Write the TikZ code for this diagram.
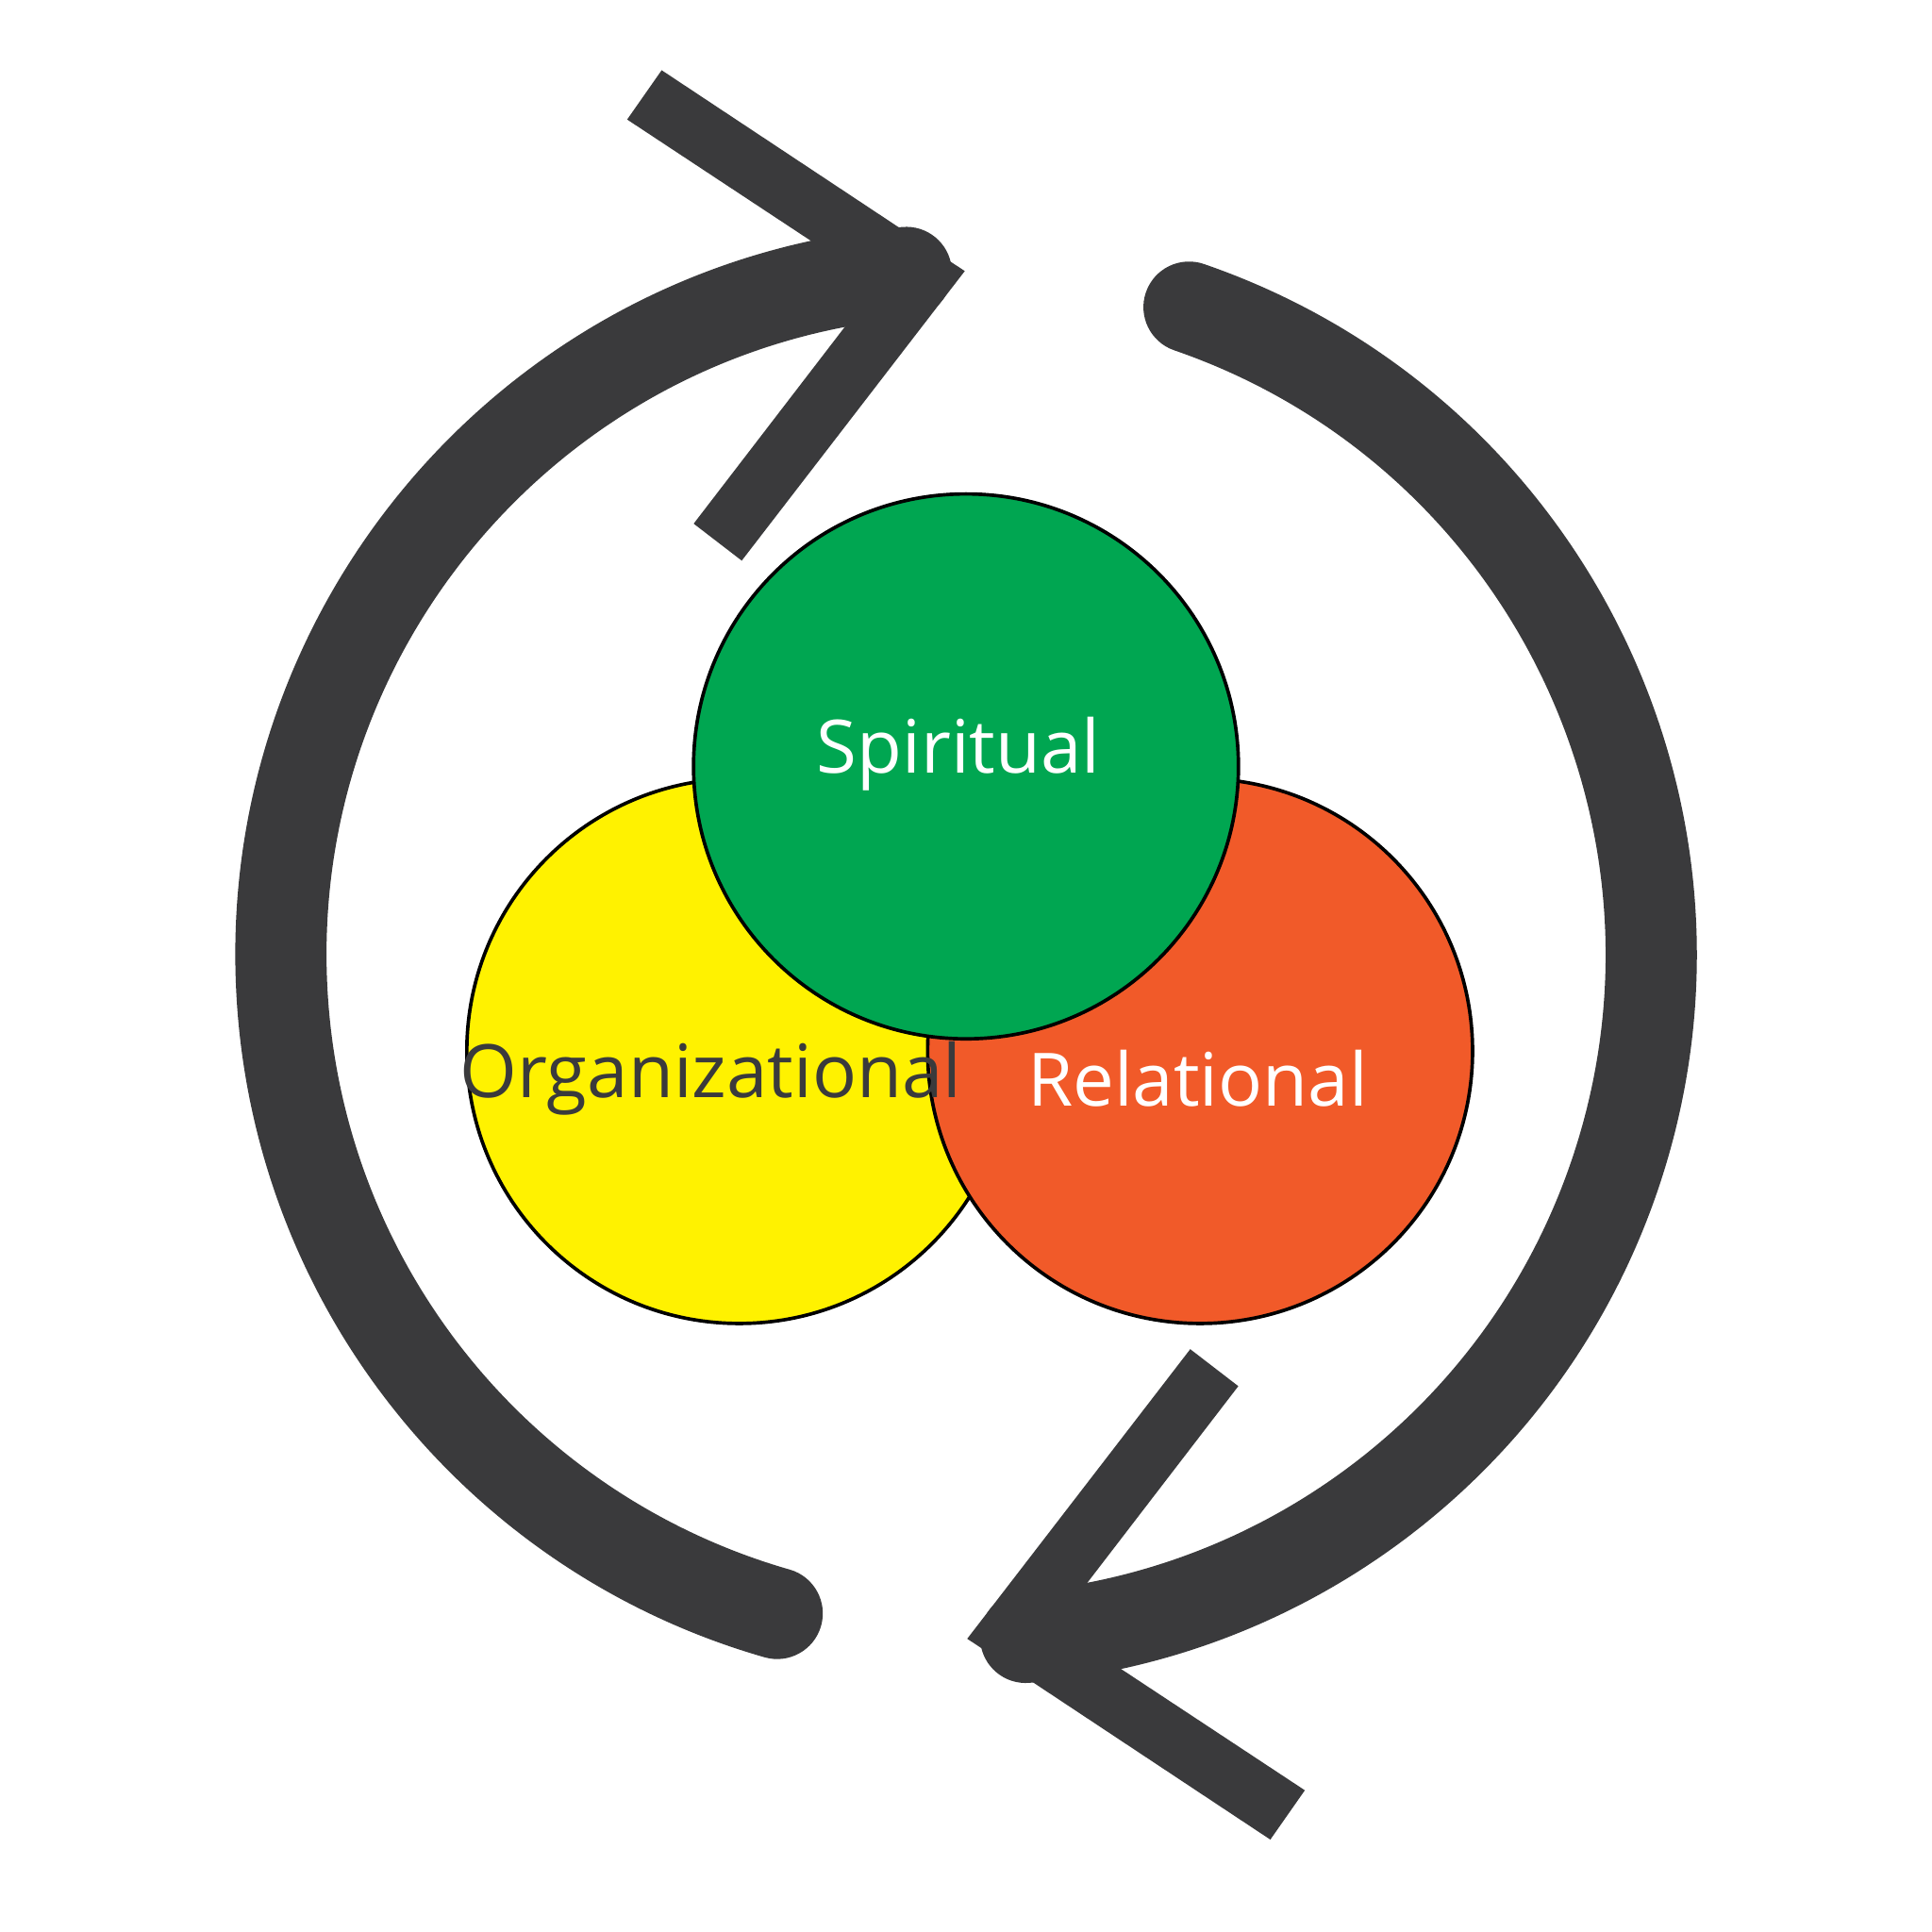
\documentclass[tikz,border=0pt]{standalone}
\usepackage{fontspec}
\setmainfont{Open Sans}
\definecolor{loopgray}{HTML}{3A3A3C}
\definecolor{spiritgreen}{HTML}{00A651}
\definecolor{orgyellow}{HTML}{FFF200}
\definecolor{relorange}{HTML}{F15A29}
\tikzset{
  area/.style={circle, draw=black, line width=0.8pt, minimum size=4.42cm, inner sep=0pt, font=\fontsize{17}{20}\selectfont},
  loop/.style={draw=loopgray, line width=0.74cm, line cap=round},
}
\begin{document}
\begin{tikzpicture}[x=0.01cm, y=0.01cm]
\useasboundingbox (0,0) rectangle (1568,1568);
\coordinate (hub) at (784,793);
% the two turning arcs
\draw[loop] (hub) ++(95:556) arc[start angle=95, end angle=254, radius=556];
\draw[loop] (hub) ++(71:556) arc[start angle=71, end angle=-85, radius=556];
% arrow heads
\fill[loopgray] (537,1511) -- (783,1348) -- (602,1113) -- (563,1143) -- (712,1337) -- (509,1471) -- cycle;
\fill[loopgray] (1031,75) -- (785,238) -- (966,473) -- (1005,443) -- (856,249) -- (1059,115) -- cycle;
% the three circles
\node[area, fill=orgyellow] (org) at (600,715) {};
\node[area, fill=relorange] (rel) at (974,715) {};
\node[area, fill=spiritgreen] (spirit) at (784,946) {};
\node[font=\fontsize{17}{20}\selectfont, text=loopgray] (orglabel) at (577,693) {Organizational};
\node[font=\fontsize{17}{20}\selectfont, text=white] (rellabel) at (972,693) {Relational};
\node[font=\fontsize{17}{20}\selectfont, text=white] (spiritlabel) at (778,956) {Spiritual};
\end{tikzpicture}
\end{document}
